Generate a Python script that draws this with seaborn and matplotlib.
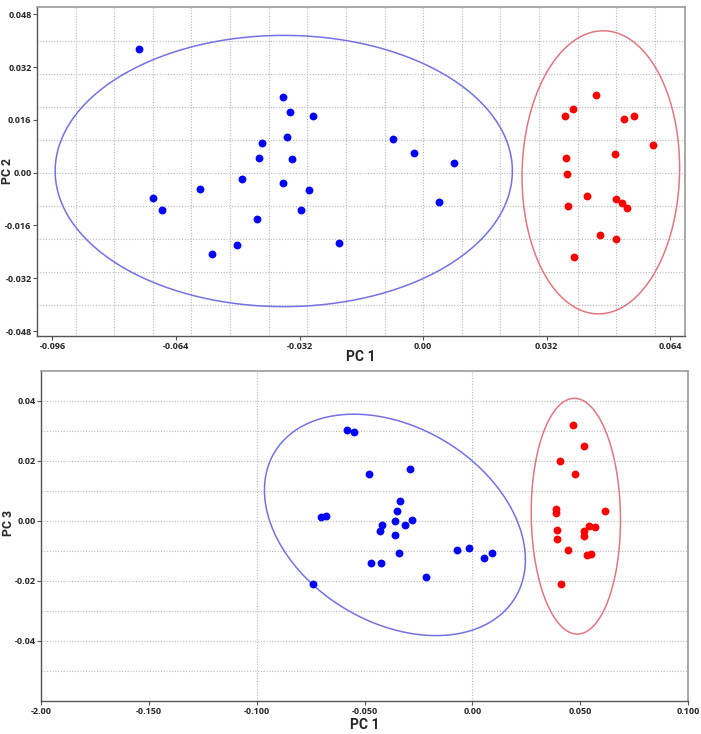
import matplotlib
matplotlib.use("Agg")
import matplotlib.pyplot as plt
import numpy as np
import seaborn as sb
import pandas as pd

# ---- PC1 vs PC2 scores ----
blue_pc1_a = [-0.0735, -0.0363, -0.0344, -0.0286, -0.0352, -0.0418, -0.0424, -0.0339,
              -0.0469, -0.0363, -0.0578, -0.0295, -0.0700, -0.0676, -0.0317, -0.0431,
              -0.0482, -0.0547, -0.0219, -0.0077, -0.0023, 0.0081, 0.0041]
blue_pc2 = [0.0376, 0.0228, 0.0183, 0.0172, 0.0109, 0.0091, 0.0043, 0.0040,
            -0.0019, -0.0030, -0.0051, -0.0052, -0.0076, -0.0112, -0.0113, -0.0139,
            -0.0220, -0.0246, -0.0212, 0.0101, 0.0060, 0.0029, -0.0090]
red_pc1_a = [0.0447, 0.0388, 0.0368, 0.0521, 0.0547, 0.0594, 0.0498, 0.0370, 0.0373,
             0.0424, 0.0500, 0.0516, 0.0529, 0.0375, 0.0457, 0.0500, 0.0390]
red_pc2 = [0.0235, 0.0193, 0.0173, 0.0164, 0.0173, 0.0084, 0.0057, 0.0043, -0.0003,
           -0.0072, -0.0081, -0.0092, -0.0107, -0.0100, -0.0190, -0.0200, -0.0255]

# ---- PC1 vs PC3 scores ----
blue_pc1_b = [-0.0704, -0.0679, -0.0740, -0.0580, -0.0548, -0.0481, -0.0291, -0.0336,
              -0.0349, -0.0360, -0.0282, -0.0313, -0.0417, -0.0430, -0.0360, -0.0340,
              -0.0469, -0.0422, -0.0213, -0.0069, -0.0014, 0.0053, 0.0092]
blue_pc3 = [0.0014, 0.0016, -0.0210, 0.0305, 0.0298, 0.0156, 0.0174, 0.0068,
            0.0032, 0.0000, 0.0004, -0.0012, -0.0013, -0.0034, -0.0048, -0.0108,
            -0.0141, -0.0141, -0.0186, -0.0098, -0.0091, -0.0124, -0.0107]
red_pc1_b = [0.0467, 0.0519, 0.0407, 0.0477, 0.0386, 0.0386, 0.0617, 0.0541, 0.0569,
             0.0520, 0.0520, 0.0391, 0.0393, 0.0444, 0.0534, 0.0551, 0.0410]
red_pc3 = [0.0319, 0.0249, 0.0201, 0.0156, 0.0041, 0.0027, 0.0033, -0.0017, -0.0021,
           -0.0034, -0.0051, -0.0030, -0.0060, -0.0096, -0.0113, -0.0110, -0.0210]

# confidence ellipses: center x, center y, radius x, radius y, phase
ell_top = {"blue": (-0.0361, 0.0005, 0.0592, 0.0411, 0.0),
           "red": (0.0460, 0.0001, 0.0204, 0.0429, 0.03)}
ell_bot = {"blue": (-0.0359, -0.0013, 0.0605, 0.0369, -0.32),
           "red": (0.0480, 0.0016, 0.0207, 0.0393, -0.033)}

# axis ticks
top_xticks = [-0.096, -0.064, -0.032, 0.0, 0.032, 0.064]
top_xlabels = ["-0.096", "-0.064", "-0.032", "0.00", "0.032", "0.064"]
top_yticks = [-0.048, -0.032, -0.016, 0.0, 0.016, 0.032, 0.048]
top_ylabels = ["-0.048", "-0.032", "-0.016", "0.00", "0.016", "0.032", "0.048"]
bot_xticks = [-0.2, -0.15, -0.1, -0.05, 0.0, 0.05, 0.1]
bot_xlabels = ["-2.00", "-0.150", "-0.100", "-0.050", "0.00", "0.050", "0.100"]
bot_yticks = [-0.04, -0.02, 0.0, 0.02, 0.04]
bot_ylabels = ["-0.04", "-0.02", "0.00", "0.02", "0.04"]

sb.set_style("white")
plt.rcParams["font.family"] = ["Open Sans", "DejaVu Sans"]

PT_BLUE = "#0000ff"
PT_RED = "#ff0000"
EL_BLUE = "#7272e4"
EL_RED = "#e07680"


def ellipse(ax, params, color):
    cx, cy, rx, ry, phi = params
    t = np.linspace(0, 2 * np.pi, 400)
    ax.plot(cx + rx * np.cos(t), cy + ry * np.sin(t + phi), color=color, lw=1.1, zorder=2)


def style_axes(ax, xlim, ylim, xgrid, ygrid, xticks, xlabels, yticks, ylabels, ylab,
               xlab_pos, ylab_pos):
    ax.set_xlim(*xlim)
    ax.set_ylim(*ylim)
    for g in xgrid:
        ax.axvline(g, color="#b8b8b8", lw=0.8, ls=(0, (1, 1.5)), zorder=0)
    for g in ygrid:
        ax.axhline(g, color="#b8b8b8", lw=0.8, ls=(0, (1, 1.5)), zorder=0)
    ax.set_xticks(xticks)
    ax.set_xticklabels(xlabels)
    ax.set_yticks(yticks)
    ax.set_yticklabels(ylabels)
    ax.tick_params(axis="both", labelsize=6.5, length=3, width=0.8, color="#555555", pad=1,
                   direction="out", bottom=True, left=True)
    for lab in ax.get_xticklabels() + ax.get_yticklabels():
        lab.set_fontweight("bold")
    for side in ["left", "bottom"]:
        ax.spines[side].set_color("#555555")
        ax.spines[side].set_linewidth(1.0)
    for side in ["top", "right"]:
        ax.spines[side].set_color("#999999")
        ax.spines[side].set_linewidth(1.2)
    ax.set_xlabel("PC 1", fontsize=10, fontweight="bold", family=["Roboto", "DejaVu Sans"])
    ax.set_ylabel(ylab, fontsize=8.8, fontweight="bold", family=["Roboto", "DejaVu Sans"])
    ax.xaxis.set_label_coords(*xlab_pos)
    ax.yaxis.set_label_coords(*ylab_pos)


fig = plt.figure(figsize=(7.01, 7.34), dpi=100)
ax1 = fig.add_axes([37 / 701, 398 / 734, 648 / 701, 329 / 734])
ax2 = fig.add_axes([41 / 701, 33 / 734, 647 / 701, 330 / 734])

# top panel
top_b = pd.DataFrame({"x": blue_pc1_a, "y": blue_pc2})
top_r = pd.DataFrame({"x": red_pc1_a, "y": red_pc2})
sb.scatterplot(data=top_b, x="x", y="y", color=PT_BLUE, s=32, linewidth=0, ax=ax1, zorder=3)
sb.scatterplot(data=top_r, x="x", y="y", color=PT_RED, s=32, linewidth=0, ax=ax1, zorder=3)
ellipse(ax1, ell_top["blue"], EL_BLUE)
ellipse(ax1, ell_top["red"], EL_RED)
style_axes(ax1, (-0.100, 0.0678), (-0.0495, 0.0502),
           np.arange(-9, 7) * 0.01, np.arange(-4, 5) * 0.01,
           top_xticks, top_xlabels, top_yticks, top_ylabels, "PC 2",
           (0.5, -0.043), (-0.0348, 0.5))

# bottom panel
bot_b = pd.DataFrame({"x": blue_pc1_b, "y": blue_pc3})
bot_r = pd.DataFrame({"x": red_pc1_b, "y": red_pc3})
sb.scatterplot(data=bot_b, x="x", y="y", color=PT_BLUE, s=32, linewidth=0, ax=ax2, zorder=3)
sb.scatterplot(data=bot_r, x="x", y="y", color=PT_RED, s=32, linewidth=0, ax=ax2, zorder=3)
ellipse(ax2, ell_bot["blue"], EL_BLUE)
ellipse(ax2, ell_bot["red"], EL_RED)
style_axes(ax2, (-0.2, 0.1), (-0.06, 0.05),
           [-0.1, 0.0], np.arange(-5, 5) * 0.01,
           bot_xticks, bot_xlabels, bot_yticks, bot_ylabels, "PC 3",
           (0.5, -0.052), (-0.0395, 0.54))

fig.savefig("out.png", dpi=100)
